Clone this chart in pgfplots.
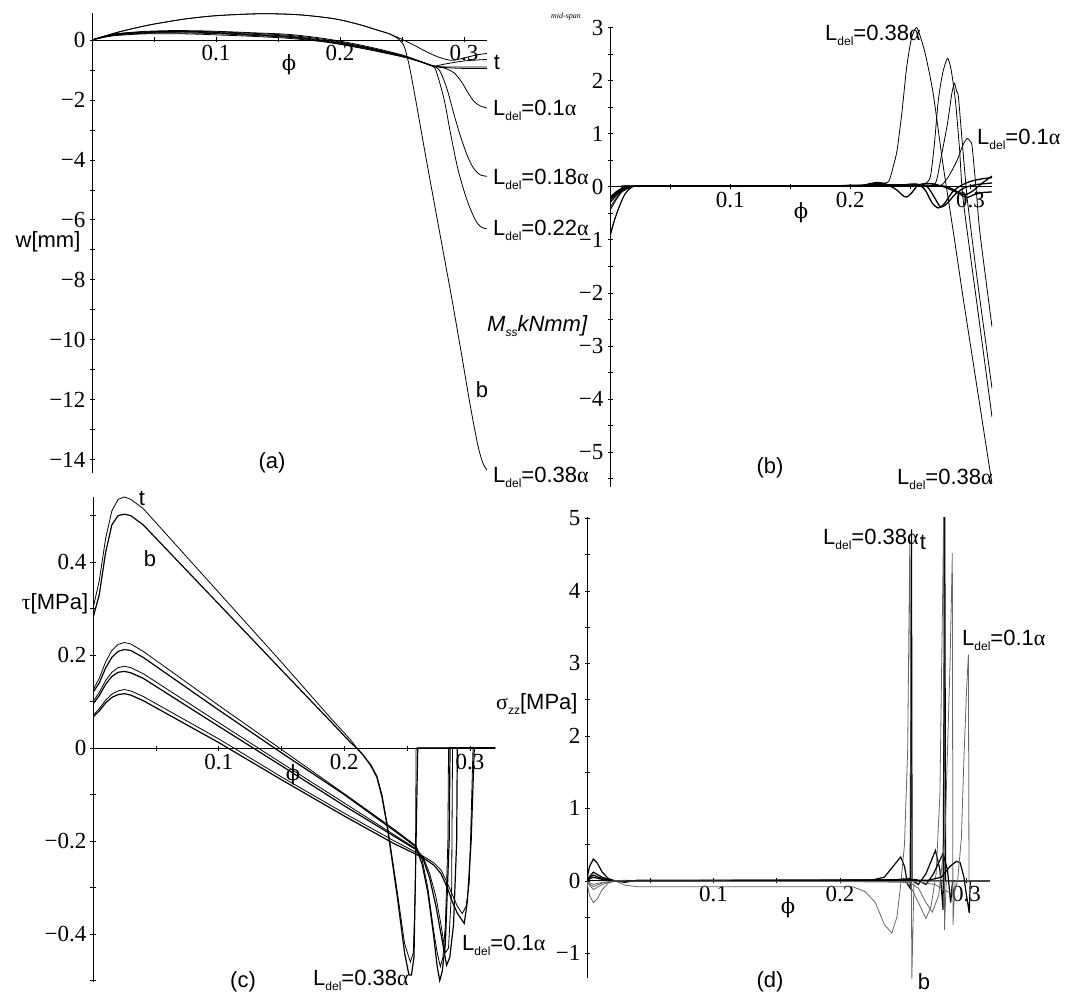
\documentclass[border=0pt]{standalone}
\usepackage{fontspec}
\setmainfont{Liberation Sans}
\newfontfamily\serif{Liberation Serif}
\newfontfamily\dserif{DejaVu Serif}
\usepackage{pgfplots}
\pgfplotsset{compat=1.18}
\newcommand\lf{\fontsize{22}{24}\selectfont}
\newcommand\phisym{{\dserif\fontsize{21}{21}\selectfont ϕ}}
\newcommand\Ldel[1]{L\raisebox{-5pt}{\fontsize{12}{12}\selectfont del}=#1{\serif α}}
\pgfplotsset{
  panel/.style={
    scale only axis, axis lines=middle, axis line style={-,line width=0.8pt},
    xmin=0, anchor=south west,
    cycle list={{black,mark=none}},
    xtick={0.1,0.2,0.3}, xticklabels={0.1,0.2,0.3},
    minor xtick={0.05,0.15,0.25},
    major tick length=5pt, minor tick length=5pt,
    tick style={black,line width=0.6pt}, tick align=center,
    ticklabel style={font=\serif\fontsize{23}{24}\selectfont, inner sep=1pt},
    yticklabel style={xshift=-3pt},
    xticklabel style={yshift=-2pt},
    hide obscured x ticks=false, hide obscured y ticks=false,
    every axis plot/.append style={line width=0.8pt, black, mark=none},
  }
}
\begin{document}
\begin{tikzpicture}
\useasboundingbox (0pt,0pt) rectangle (1071pt,994pt);
% ---------------- (a) ----------------
\begin{axis}[panel, at={(92pt,521pt)}, width=395pt, height=460pt,
  xmax=0.3185, ymin=-14.45, ymax=0.9,
  ytick={-14,-12,-10,-8,-6,-4,-2,0}, yticklabels={−14,−12,−10,−8,−6,−4,−2,0},
  minor ytick={-13,-11,-9,-7,-5,-3,-1}]
\addplot[smooth] coordinates {(0,0)(0.01,0.12)(0.02,0.25)(0.035,0.4)(0.05,0.53)(0.075,0.7)(0.1,0.81)(0.13,0.87)(0.15,0.87)(0.17,0.83)(0.195,0.71)(0.215,0.52)(0.23,0.33)(0.24,0.2)(0.248,0.0)(0.252,-0.25)(0.256,-0.9)(0.261,-2.0)(0.267,-3.4)(0.274,-5.0)(0.282,-6.8)(0.29,-8.6)(0.298,-10.5)(0.305,-12.2)(0.311,-13.5)(0.315,-14.1)(0.3185,-14.35)};
\addplot[smooth] coordinates {(0,0)(0.01,0.12)(0.02,0.25)(0.035,0.4)(0.05,0.53)(0.075,0.7)(0.1,0.81)(0.13,0.87)(0.15,0.87)(0.17,0.83)(0.195,0.71)(0.215,0.52)(0.23,0.33)(0.24,0.2)(0.25,0.02)(0.26,-0.18)(0.27,-0.4)(0.28,-0.58)(0.29,-0.68)(0.3,-0.6)(0.31,-0.5)(0.3185,-0.45)};
\addplot[smooth] coordinates {(0,0)(0.01,0.13)(0.02,0.21)(0.04,0.28)(0.06,0.31)(0.08,0.31)(0.1,0.29)(0.13,0.24)(0.16,0.18)(0.19,0.03)(0.22,-0.2)(0.25,-0.5)(0.265,-0.72)(0.275,-0.87)(0.285,-0.8)(0.3,-0.7)(0.3185,-0.65)};
\addplot[smooth] coordinates {(0,0)(0.01,0.12)(0.02,0.2)(0.04,0.26)(0.06,0.29)(0.08,0.29)(0.1,0.27)(0.13,0.22)(0.16,0.15)(0.19,0.0)(0.22,-0.23)(0.25,-0.52)(0.265,-0.73)(0.275,-0.88)(0.278,-1.1)(0.284,-2.0)(0.289,-3.1)(0.295,-4.3)(0.302,-5.3)(0.309,-6.0)(0.314,-6.25)(0.3185,-6.3)};
\addplot[smooth] coordinates {(0,0)(0.01,0.12)(0.02,0.2)(0.04,0.26)(0.06,0.28)(0.08,0.28)(0.1,0.25)(0.13,0.19)(0.16,0.12)(0.19,-0.03)(0.22,-0.24)(0.25,-0.53)(0.265,-0.72)(0.275,-0.87)(0.285,-0.9)(0.3,-0.9)(0.3185,-0.9)};
\addplot[smooth] coordinates {(0,0)(0.01,0.11)(0.02,0.18)(0.04,0.24)(0.06,0.26)(0.08,0.26)(0.1,0.23)(0.13,0.17)(0.16,0.1)(0.19,-0.05)(0.22,-0.26)(0.25,-0.54)(0.265,-0.73)(0.275,-0.88)(0.28,-1.0)(0.286,-1.6)(0.292,-2.5)(0.297,-3.2)(0.303,-3.9)(0.308,-4.3)(0.313,-4.5)(0.3185,-4.55)};
\addplot[smooth] coordinates {(0,0)(0.01,0.1)(0.02,0.17)(0.04,0.22)(0.06,0.24)(0.08,0.23)(0.1,0.21)(0.13,0.15)(0.16,0.08)(0.19,-0.07)(0.22,-0.28)(0.25,-0.55)(0.265,-0.72)(0.275,-0.86)(0.285,-0.92)(0.3,-0.95)(0.3185,-0.95)};
\addplot[smooth] coordinates {(0,0)(0.01,0.09)(0.02,0.15)(0.04,0.2)(0.06,0.21)(0.08,0.2)(0.1,0.17)(0.13,0.12)(0.16,0.05)(0.19,-0.08)(0.22,-0.3)(0.25,-0.56)(0.265,-0.73)(0.275,-0.87)(0.285,-0.95)(0.292,-1.1)(0.298,-1.4)(0.303,-1.75)(0.308,-2.05)(0.313,-2.2)(0.3185,-2.27)};
\end{axis}
% ---------------- (b) ----------------
\begin{axis}[panel, at={(610pt,507pt)}, width=382pt, height=460pt,
  xmax=0.318, ymin=-5.66, ymax=3.01,
  ytick={-5,-4,-3,-2,-1,0,1,2,3}, yticklabels={−5,−4,−3,−2,−1,0,1,2,3},
  minor ytick={-5.5,-4.5,-3.5,-2.5,-1.5,-0.5,0.5,1.5,2.5}]
\addplot[smooth,tension=0.4] coordinates {(0,-0.9)(0.004,-0.6)(0.008,-0.35)(0.012,-0.15)(0.016,-0.04)(0.02,0.01)(0.03,0.02)(0.1,0.02)(0.2,0.02)(0.215,0.05)(0.225,0.06)(0.232,0.1)(0.236,0.4)(0.239,0.69)(0.243,1.4)(0.247,2.26)(0.251,2.8)(0.255,3.0)(0.258,2.85)(0.2625,2.5)(0.269,1.76)(0.2775,0.37)(0.286,-0.88)(0.294,-2.1)(0.306,-3.85)(0.318,-5.6)};
\addplot[smooth,tension=0.4] coordinates {(0,-0.95)(0.004,-0.62)(0.008,-0.37)(0.012,-0.16)(0.016,-0.05)(0.02,0.01)(0.03,0.02)(0.2,0.02)(0.22,0.06)(0.235,0.03)(0.245,0.02)(0.255,0.04)(0.262,0.05)(0.2667,0.19)(0.27,0.8)(0.2733,1.63)(0.277,2.15)(0.281,2.42)(0.284,2.2)(0.2875,1.63)(0.291,0.7)(0.294,-0.25)(0.306,-2.3)(0.318,-4.34)};
\addplot[smooth,tension=0.4] coordinates {(0,-0.45)(0.005,-0.25)(0.01,-0.1)(0.016,-0.02)(0.02,0.01)(0.2,0.02)(0.22,0.05)(0.25,0.02)(0.262,0.03)(0.271,0.07)(0.276,0.6)(0.281,1.2)(0.2845,1.75)(0.2867,1.95)(0.2885,1.8)(0.29,1.7)(0.293,0.9)(0.2975,-0.25)(0.306,-1.8)(0.318,-3.8)};
\addplot[smooth,tension=0.4] coordinates {(0,-0.4)(0.005,-0.22)(0.01,-0.08)(0.016,-0.02)(0.02,0.01)(0.2,0.02)(0.22,0.04)(0.26,0.02)(0.275,0.02)(0.282,0.2)(0.289,0.5)(0.294,0.8)(0.2975,0.91)(0.3,0.85)(0.3015,0.75)(0.305,-0.1)(0.308,-0.88)(0.318,-2.64)};
\addplot[smooth,tension=0.4,line width=1.3pt] coordinates {(0,-0.3)(0.005,-0.17)(0.01,-0.06)(0.016,-0.01)(0.02,0.01)(0.2,0.02)(0.215,0.05)(0.222,0.08)(0.23,0.05)(0.238,-0.05)(0.2445,-0.18)(0.2475,-0.19)(0.251,-0.12)(0.256,0.02)(0.262,0.06)(0.27,0.05)(0.28,-0.02)(0.29,-0.12)(0.296,-0.15)(0.302,-0.08)(0.31,0.07)(0.318,0.2)};
\addplot[smooth,tension=0.4,line width=1.3pt] coordinates {(0,-0.25)(0.005,-0.14)(0.01,-0.05)(0.016,-0.01)(0.02,0.01)(0.2,0.02)(0.24,0.03)(0.255,0.05)(0.262,-0.05)(0.268,-0.3)(0.273,-0.4)(0.278,-0.33)(0.285,-0.1)(0.292,0.02)(0.3,0.1)(0.31,0.15)(0.318,0.17)};
\addplot[smooth,tension=0.4,line width=1.3pt] coordinates {(0,-0.22)(0.005,-0.12)(0.01,-0.04)(0.016,-0.01)(0.02,0.01)(0.2,0.02)(0.255,0.04)(0.264,0.0)(0.27,-0.2)(0.275,-0.38)(0.28,-0.33)(0.287,-0.15)(0.295,-0.02)(0.305,0.04)(0.318,0.07)};
\addplot[smooth,tension=0.4,line width=1.3pt] coordinates {(0,-0.2)(0.005,-0.1)(0.01,-0.03)(0.016,-0.01)(0.02,0.01)(0.2,0.02)(0.27,0.02)(0.28,0.0)(0.288,-0.08)(0.294,-0.18)(0.298,-0.2)(0.303,-0.15)(0.31,-0.11)(0.318,-0.1)};
\end{axis}
% ---------------- (c) ----------------
\begin{axis}[panel, at={(93pt,12pt)}, width=402pt, height=485pt,
  xmax=0.32, ymin=-0.503, ymax=0.54,
  ytick={-0.4,-0.2,0,0.2,0.4}, yticklabels={−0.4,−0.2,0,0.2,0.4},
  minor ytick={-0.5,-0.3,-0.1,0.1,0.3,0.5}]
\addplot[black] coordinates {(0,0.3)(0.005,0.36)(0.01,0.45)(0.015,0.51)(0.02,0.535)(0.025,0.54)(0.03,0.535)(0.04,0.515)(0.1,0.335)(0.15,0.185)(0.19,0.062)(0.205,0.018)(0.21,0.0)(0.215,-0.015)(0.221,-0.035)(0.226,-0.06)(0.23,-0.1)(0.234,-0.16)(0.242,-0.305)(0.248,-0.42)(0.2526,-0.46)(0.255,-0.44)(0.2566,-0.3)(0.2572,0)(0.32,0)};
\addplot[black,line width=1.2pt] coordinates {(0,0.28)(0.005,0.33)(0.01,0.42)(0.015,0.48)(0.02,0.5)(0.025,0.503)(0.03,0.5)(0.04,0.48)(0.1,0.31)(0.15,0.168)(0.19,0.055)(0.205,0.012)(0.21,0.0)(0.215,-0.015)(0.221,-0.037)(0.226,-0.063)(0.23,-0.105)(0.234,-0.165)(0.242,-0.315)(0.248,-0.44)(0.2515,-0.488)(0.2535,-0.488)(0.2555,-0.45)(0.2585,0)(0.32,0)};
\addplot[black] coordinates {(0,0.125)(0.005,0.15)(0.01,0.185)(0.015,0.21)(0.02,0.223)(0.025,0.227)(0.03,0.224)(0.04,0.208)(0.1,0.092)(0.15,-0.003)(0.2,-0.098)(0.24,-0.175)(0.257,-0.21)(0.262,-0.24)(0.2665,-0.3)(0.271,-0.39)(0.274,-0.44)(0.2765,-0.47)(0.2785,-0.45)(0.2805,-0.38)(0.2825,-0.2)(0.283,0)(0.32,0)};
\addplot[black,line width=1.2pt] coordinates {(0,0.12)(0.005,0.14)(0.01,0.172)(0.015,0.195)(0.02,0.208)(0.025,0.212)(0.03,0.21)(0.04,0.195)(0.1,0.082)(0.15,-0.01)(0.2,-0.1)(0.24,-0.178)(0.257,-0.212)(0.262,-0.25)(0.2665,-0.31)(0.271,-0.4)(0.274,-0.47)(0.276,-0.5)(0.278,-0.48)(0.2805,-0.42)(0.2835,-0.2)(0.2842,0)(0.32,0)};
\addplot[black] coordinates {(0,0.1)(0.005,0.12)(0.01,0.145)(0.015,0.163)(0.02,0.173)(0.025,0.176)(0.03,0.173)(0.04,0.16)(0.1,0.055)(0.15,-0.032)(0.2,-0.118)(0.24,-0.187)(0.257,-0.216)(0.263,-0.235)(0.268,-0.27)(0.273,-0.32)(0.277,-0.38)(0.2805,-0.44)(0.283,-0.43)(0.2855,-0.3)(0.2862,0)(0.32,0)};
\addplot[black,line width=1.2pt] coordinates {(0,0.095)(0.005,0.113)(0.01,0.137)(0.015,0.154)(0.02,0.163)(0.025,0.165)(0.03,0.162)(0.04,0.15)(0.1,0.047)(0.15,-0.038)(0.2,-0.124)(0.24,-0.19)(0.257,-0.218)(0.263,-0.24)(0.268,-0.28)(0.273,-0.34)(0.277,-0.4)(0.2815,-0.467)(0.284,-0.45)(0.287,-0.38)(0.2895,-0.2)(0.29,0)(0.32,0)};
\addplot[black] coordinates {(0,0.07)(0.005,0.085)(0.01,0.103)(0.015,0.116)(0.02,0.123)(0.025,0.126)(0.03,0.123)(0.04,0.111)(0.1,0.02)(0.15,-0.062)(0.2,-0.14)(0.24,-0.2)(0.257,-0.224)(0.265,-0.236)(0.2715,-0.247)(0.277,-0.262)(0.282,-0.29)(0.286,-0.315)(0.29,-0.34)(0.294,-0.356)(0.297,-0.34)(0.2995,-0.29)(0.301,-0.15)(0.3025,0)(0.32,0)};
\addplot[black,line width=1.2pt] coordinates {(0,0.067)(0.005,0.08)(0.01,0.097)(0.015,0.109)(0.02,0.115)(0.025,0.117)(0.03,0.114)(0.04,0.102)(0.1,0.012)(0.15,-0.068)(0.2,-0.146)(0.24,-0.206)(0.257,-0.228)(0.265,-0.24)(0.2715,-0.252)(0.277,-0.27)(0.282,-0.3)(0.286,-0.33)(0.29,-0.355)(0.2955,-0.377)(0.298,-0.33)(0.301,-0.2)(0.3035,0)(0.32,0)};
\end{axis}
% ---------------- (d) ----------------
\begin{axis}[panel, at={(587pt,16pt)}, width=403pt, height=461pt,
  xmax=0.3186, ymin=-1.34, ymax=5.02,
  ytick={-1,0,1,2,3,4,5}, yticklabels={−1,0,1,2,3,4,5},
  minor ytick={-0.5,0.5,1.5,2.5,3.5,4.5}]
\addplot[line width=1.2pt] coordinates {(0,0.03)(0.002,0.2)(0.005,0.3)(0.008,0.25)(0.012,0.12)(0.017,0.03)(0.022,0)(0.03,-0.02)(0.04,0.01)(0.2,0.01)(0.225,0.01)(0.235,0.05)(0.242,0.2)(0.248,0.33)(0.251,0.2)(0.2535,-0.05)(0.2555,-0.1)(0.2565,4.85)(0.257,0)(0.318,0)};
\addplot[black!60] coordinates {(0,-0.03)(0.002,-0.2)(0.005,-0.3)(0.008,-0.25)(0.012,-0.12)(0.017,-0.03)(0.022,0)(0.03,-0.06)(0.04,-0.08)(0.21,-0.08)(0.22,-0.15)(0.228,-0.3)(0.235,-0.6)(0.241,-0.72)(0.245,-0.5)(0.248,-0.05)(0.251,0.5)(0.2535,1.8)(0.2552,4.7)(0.2568,-1.35)(0.2585,0)(0.318,0)};
\addplot[line width=1.2pt] coordinates {(0,0.02)(0.005,0.12)(0.012,0.05)(0.022,0)(0.03,-0.01)(0.04,0)(0.24,0.01)(0.255,0.03)(0.262,-0.05)(0.268,0.1)(0.2755,0.42)(0.279,0.15)(0.2815,-0.4)(0.2828,5.1)(0.2835,0)(0.318,0)};
\addplot[black!60] coordinates {(0,-0.02)(0.005,-0.12)(0.012,-0.05)(0.022,0)(0.03,0.01)(0.04,0)(0.23,-0.01)(0.245,0.02)(0.255,-0.05)(0.262,-0.3)(0.268,-0.52)(0.272,-0.35)(0.276,0.1)(0.279,1.2)(0.2812,4.0)(0.282,5.1)(0.2826,-0.68)(0.284,0)(0.318,0)};
\addplot[line width=1.2pt] coordinates {(0,0.02)(0.005,0.08)(0.012,0.03)(0.022,0)(0.2,0.01)(0.26,0.02)(0.268,-0.05)(0.274,0.1)(0.2815,0.38)(0.285,0.15)(0.2875,-0.3)(0.289,0)(0.318,0)};
\addplot[black!60] coordinates {(0,-0.02)(0.005,-0.08)(0.012,-0.03)(0.022,0)(0.2,-0.01)(0.255,-0.02)(0.262,-0.1)(0.268,-0.3)(0.273,-0.43)(0.278,-0.2)(0.283,0.6)(0.287,3.0)(0.2888,4.52)(0.2893,-0.61)(0.291,0)(0.318,0)};
\addplot[line width=1.2pt] coordinates {(0,0.01)(0.005,0.05)(0.012,0.02)(0.022,0)(0.27,0.01)(0.28,0.05)(0.287,0.2)(0.292,0.27)(0.295,0.25)(0.298,0.05)(0.3,-0.2)(0.3022,-0.44)(0.303,0)(0.318,0)};
\addplot[black!60] coordinates {(0,-0.01)(0.005,-0.05)(0.012,-0.02)(0.022,0)(0.26,-0.01)(0.275,-0.05)(0.285,-0.15)(0.29,-0.18)(0.293,0.0)(0.296,0.6)(0.298,1.7)(0.3,2.6)(0.3015,3.12)(0.302,0)(0.318,0)};
\end{axis}
% ---------------- text ----------------
\begin{scope}[every node/.style={inner sep=0pt}]
% (a)
\node at (48pt,752pt) {\lf w[mm]};
\node at (272pt,531pt) {\lf (a)};
\node at (289pt,929pt) {\phisym};
\node at (497pt,932pt) {\lf t};
\node at (482pt,604pt) {\lf b};
\node[anchor=base west] at (493pt,878pt) {\lf\Ldel{0.1}};
\node[anchor=base west] at (493pt,809.5pt) {\lf\Ldel{0.18}};
\node[anchor=base west] at (493pt,758.5pt) {\lf\Ldel{0.22}};
\node[anchor=base west] at (493pt,511.5pt) {\lf\Ldel{0.38}};
% (b)
\node at (566pt,977pt) {\serif\itshape\fontsize{8}{8}\selectfont mid-span};
\node[anchor=base west] at (487pt,662pt) {\lf\itshape M\raisebox{-5pt}{\fontsize{12}{12}\selectfont ss}kNmm]};
\node[anchor=base west] at (825pt,953.5pt) {\lf\Ldel{0.38}};
\node[anchor=base west] at (977pt,849.5pt) {\lf\Ldel{0.1}};
\node[anchor=base west] at (897pt,509.5pt) {\lf\Ldel{0.38}};
\node at (770pt,526pt) {\lf (b)};
\node at (801pt,781pt) {\phisym};
% (c)
\node at (142pt,496pt) {\lf t};
\node at (150pt,435pt) {\lf b};
\node at (55pt,390pt) {\lf{\serif τ}[MPa]};
\node at (293pt,219pt) {\phisym};
\node at (243pt,12pt) {\lf (c)};
\node[anchor=base west] at (313pt,9pt) {\lf\Ldel{0.38}};
\node[anchor=base west] at (462pt,43.5pt) {\lf\Ldel{0.1}};
\node[anchor=base west] at (496pt,284pt) {\lf{\serif σ}\raisebox{-5pt}{\fontsize{12}{12}\selectfont zz}[MPa]};
% (d)
\node[anchor=base west] at (823pt,449.5pt) {\lf\Ldel{0.38}};
\node at (923pt,452pt) {\lf t};
\node[anchor=base west] at (962pt,348.5pt) {\lf\Ldel{0.1}};
\node at (924pt,12pt) {\lf b};
\node at (770pt,12pt) {\lf (d)};
\node at (788pt,86pt) {\phisym};
\end{scope}
\end{tikzpicture}
\end{document}
